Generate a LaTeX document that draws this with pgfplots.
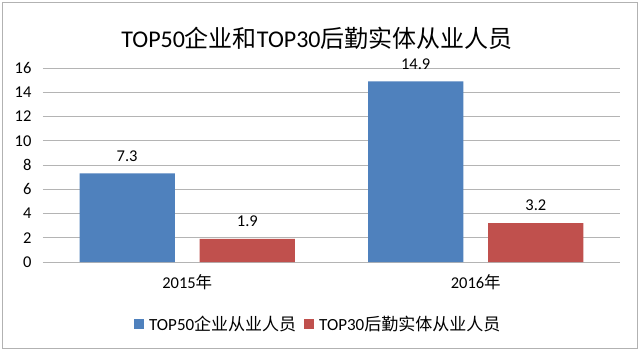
\documentclass[border=0pt]{standalone}
\usepackage{pgfplots}
\pgfplotsset{compat=1.18}
\usepackage{fontspec}
\setmainfont{Carlito}
\newfontfamily\cjk{Noto Sans CJK SC}
\definecolor{barblue}{HTML}{4F81BD}
\definecolor{barred}{HTML}{C0504D}
\definecolor{gridgray}{RGB}{180,180,180}
\begin{document}
\begin{tikzpicture}
\useasboundingbox (-43pt,-89pt) rectangle (597pt,262pt);
\fill[white] (-43pt,-89pt) rectangle (597pt,262pt);
\draw[gray!60, line width=1pt] (-40pt,-86pt) rectangle (594pt,259pt);
\node[font=\fontsize{24}{27}\selectfont] at (274pt,224pt) {TOP50{\cjk 企业和}TOP30{\cjk 后勤实体从业人员}};
\begin{axis}[
  at={(0pt,0pt)}, anchor=south west,
  scale only axis, width=577pt, height=194pt,
  ybar, bar width=0.33,
  xmin=-0.5, xmax=1.5, ymin=0, ymax=16,
  ytick={0,2,...,16},
  xtick={0,1},
  xticklabels={2015{\cjk 年},2016{\cjk 年}},
  axis line style={draw=none},
  major tick length=0pt,
  ymajorgrids, grid style={gridgray, line width=1pt},
  /pgf/number format/assume math mode=true,
  tick label style={font=\fontsize{16.5}{18}\selectfont},
  yticklabel style={anchor=east, xshift=-8pt},
  xticklabel style={yshift=-9pt},
  nodes near coords={\pgfmathprintnumber[fixed,fixed zerofill,precision=1,assume math mode=true]{\pgfplotspointmeta}},
  nodes near coords style={font=\fontsize{16.5}{18}\selectfont, anchor=south, inner sep=0pt, yshift=12pt},
  legend columns=2,
  legend style={at={(0.477,-0.32)}, anchor=center, draw=none, fill=none,
    font=\fontsize{17}{19}\selectfont,
    /tikz/every odd column/.append style={column sep=3pt},
    /tikz/every even column/.append style={column sep=6pt}},
  legend image code/.code={\fill (0pt,-5pt) rectangle (10pt,5pt);},
]
\addplot[bar shift=-0.2083, fill=barblue, draw=none] coordinates {(0,7.3) (1,14.9)};
\addlegendentry{TOP50{\cjk 企业从业人员}}
\addplot[bar shift=0.2083, fill=barred, draw=none] coordinates {(0,1.9) (1,3.2)};
\addlegendentry{TOP30{\cjk 后勤实体从业人员}}
\end{axis}
\end{tikzpicture}
\end{document}
